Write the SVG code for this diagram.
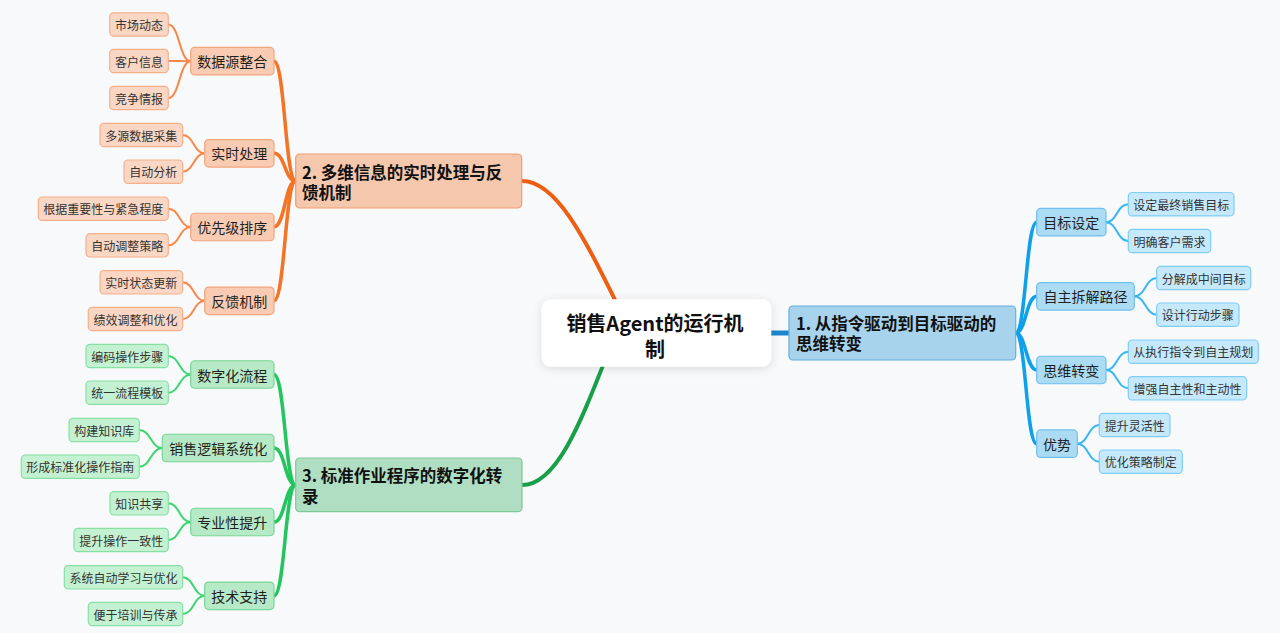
<svg xmlns="http://www.w3.org/2000/svg" width="1280" height="633" viewBox="0 0 1280 633">
<defs>
<filter id="sh" x="-20%" y="-30%" width="140%" height="160%">
<feDropShadow dx="0" dy="2" stdDeviation="5" flood-color="#000" flood-opacity="0.12"/>
</filter>
<style>
text{font-family:"Noto Sans CJK SC","Noto Sans",sans-serif;}
.t3{font-size:12px;fill:#333;text-anchor:middle;dominant-baseline:central;}
.t2{font-size:14px;fill:#1f1f1f;text-anchor:middle;dominant-baseline:central;}
.tb{font-size:16.5px;font-weight:bold;fill:#111;dominant-baseline:central;}
.tc{font-size:20px;font-weight:bold;fill:#111;text-anchor:middle;dominant-baseline:central;}
.o3{fill:#fad7c4;stroke:#f5b08a;stroke-width:1.2;}
.o2{fill:#f8cbb2;stroke:#f2a57c;stroke-width:1.2;}
.o1{fill:#f5c7ad;stroke:#ef9e6e;stroke-width:1.2;}
.g3{fill:#c4f1d2;stroke:#86e0a4;stroke-width:1.2;}
.g2{fill:#b6e9c6;stroke:#78d696;stroke-width:1.2;}
.g1{fill:#b0dec2;stroke:#7bc996;stroke-width:1.2;}
.b3{fill:#c5e9fb;stroke:#80cdf3;stroke-width:1.2;}
.b2{fill:#acdbf4;stroke:#6fc0ec;stroke-width:1.2;}
.b1{fill:#a8d3ec;stroke:#62b0e0;stroke-width:1.2;}
.c{fill:none;stroke-linecap:round;}
.co0{stroke:#ec5f13;stroke-width:4;}
.co1{stroke:#f47325;stroke-width:3.5;}
.co2{stroke:#f8884a;stroke-width:2;}
.cg0{stroke:#18a048;stroke-width:4;}
.cg1{stroke:#22c55e;stroke-width:3.5;}
.cg2{stroke:#3dd56f;stroke-width:2;}
.cb0{stroke:#1b87cc;stroke-width:5;stroke-linecap:butt;}
.cb1{stroke:#0fa0ea;stroke-width:3.5;}
.cb2{stroke:#36b7f3;stroke-width:2;}
</style>
</defs>
<rect width="1280" height="633" fill="#f8f9fb"/>

<g id="connectors">
<path class="c cb0" d="M770,333 L790,333"/>
<path class="c co0" d="M522,181 C560,181 590,250 630,330"/>
<path class="c cg0" d="M522,485 C560,485 585,410 615,335"/>

<path class="c cb1" d="M1015.7,333 C1026,333 1026,222.2 1036.7,222.2"/>
<path class="c cb1" d="M1015.7,333 C1026,333 1026,296.3 1036.7,296.3"/>
<path class="c cb1" d="M1015.7,333 C1026,333 1026,370 1036.7,370"/>
<path class="c cb1" d="M1015.7,333 C1026,333 1026,443.7 1036.7,443.7"/>

<path class="c cb2" d="M1106,222.2 C1117,222.2 1117,204.2 1128.3,204.2"/>
<path class="c cb2" d="M1106,222.2 C1117,222.2 1117,241 1128.3,241"/>
<path class="c cb2" d="M1134.3,296.3 C1145.5,296.3 1145.5,278 1156.7,278"/>
<path class="c cb2" d="M1134.3,296.3 C1145.5,296.3 1145.5,314.7 1156.7,314.7"/>
<path class="c cb2" d="M1106,370 C1117,370 1117,351.7 1128.3,351.7"/>
<path class="c cb2" d="M1106,370 C1117,370 1117,388.3 1128.3,388.3"/>
<path class="c cb2" d="M1077.3,443.7 C1088.3,443.7 1088.3,425 1099.3,425"/>
<path class="c cb2" d="M1077.3,443.7 C1088.3,443.7 1088.3,461.7 1099.3,461.7"/>

<path class="c co1" d="M295.7,181 C285,181 285,61.2 274,61.2"/>
<path class="c co1" d="M295.7,181 C285,181 285,153.3 274,153.3"/>
<path class="c co1" d="M295.7,181 C285,181 285,227 274,227"/>
<path class="c co1" d="M295.7,181 C285,181 285,300.8 274,300.8"/>

<path class="c co2" d="M190.7,61.2 C179.5,61.2 179.5,24.5 168.3,24.5"/>
<path class="c co2" d="M190.7,61.2 C179.5,61.2 179.5,61 168.3,61"/>
<path class="c co2" d="M190.7,61.2 C179.5,61.2 179.5,98 168.3,98"/>
<path class="c co2" d="M204.7,153.3 C193.7,153.3 193.7,135 182.7,135"/>
<path class="c co2" d="M204.7,153.3 C193.7,153.3 193.7,171.7 182.7,171.7"/>
<path class="c co2" d="M190.7,227 C179.5,227 179.5,208.7 168.3,208.7"/>
<path class="c co2" d="M190.7,227 C179.5,227 179.5,245.3 168.3,245.3"/>
<path class="c co2" d="M204.7,300.8 C193.7,300.8 193.7,282.3 182.7,282.3"/>
<path class="c co2" d="M204.7,300.8 C193.7,300.8 193.7,319 182.7,319"/>

<path class="c cg1" d="M295.7,485 C285,485 285,374.5 274,374.5"/>
<path class="c cg1" d="M295.7,485 C285,485 285,448 274,448"/>
<path class="c cg1" d="M295.7,485 C285,485 285,522 274,522"/>
<path class="c cg1" d="M295.7,485 C285,485 285,595.8 274,595.8"/>

<path class="c cg2" d="M190.7,374.5 C179.5,374.5 179.5,356 168.3,356"/>
<path class="c cg2" d="M190.7,374.5 C179.5,374.5 179.5,392.7 168.3,392.7"/>
<path class="c cg2" d="M162.3,448 C150.8,448 150.8,430 139.3,430"/>
<path class="c cg2" d="M162.3,448 C150.8,448 150.8,466.7 139.3,466.7"/>
<path class="c cg2" d="M190.7,522 C179.5,522 179.5,503.3 168.3,503.3"/>
<path class="c cg2" d="M190.7,522 C179.5,522 179.5,540 168.3,540"/>
<path class="c cg2" d="M204.7,595.8 C193.7,595.8 193.7,577.3 182.7,577.3"/>
<path class="c cg2" d="M204.7,595.8 C193.7,595.8 193.7,614 182.7,614"/>
</g>

<g id="center">
<rect x="541.7" y="299.3" width="229.6" height="67.4" rx="9" fill="#fff" filter="url(#sh)"/>
<text class="tc"><tspan x="655" y="321.5">销售Agent的运行机</tspan><tspan x="655" y="348">制</tspan></text>
</g>

<g id="branch1">
<rect class="b1" x="789" y="306" width="226.7" height="54" rx="4"/>
<text class="tb"><tspan x="796" y="322.7">1. 从指令驱动到目标驱动的</tspan><tspan x="796" y="343.3">思维转变</tspan></text>
</g>
<g id="branch2">
<rect class="o1" x="295.7" y="154" width="226" height="54" rx="4"/>
<text class="tb"><tspan x="302" y="171.5">2. 多维信息的实时处理与反</tspan><tspan x="302" y="192">馈机制</tspan></text>
</g>
<g id="branch3">
<rect class="g1" x="295.7" y="458" width="226.3" height="53.7" rx="4"/>
<text class="tb"><tspan x="302" y="475">3. 标准作业程序的数字化转</tspan><tspan x="302" y="495.7">录</tspan></text>
</g>

<!-- right side -->
<g id="n-mubiao"><rect class="b2" x="1036.7" y="208.45" width="69.3" height="27.5" rx="4"/><text class="t2" x="1071.35" y="222.2">目标设定</text></g>
<g id="n-chaijie"><rect class="b2" x="1036.7" y="282.55" width="97.6" height="27.5" rx="4"/><text class="t2" x="1085.5" y="296.3">自主拆解路径</text></g>
<g id="n-siwei"><rect class="b2" x="1036.7" y="356.25" width="69.3" height="27.5" rx="4"/><text class="t2" x="1071.35" y="370">思维转变</text></g>
<g id="n-youshi"><rect class="b2" x="1036.7" y="429.95" width="40.6" height="27.5" rx="4"/><text class="t2" x="1057" y="443.7">优势</text></g>

<g id="n-r1"><rect class="b3" x="1128.3" y="192.5" width="105.7" height="23.4" rx="4"/><text class="t3" x="1181.15" y="204.2">设定最终销售目标</text></g>
<g id="n-r2"><rect class="b3" x="1128.3" y="229.3" width="82.4" height="23.4" rx="4"/><text class="t3" x="1169.5" y="241">明确客户需求</text></g>
<g id="n-r3"><rect class="b3" x="1156.7" y="266.3" width="94" height="23.4" rx="4"/><text class="t3" x="1203.7" y="278">分解成中间目标</text></g>
<g id="n-r4"><rect class="b3" x="1156.7" y="303" width="82.3" height="23.4" rx="4"/><text class="t3" x="1197.85" y="314.7">设计行动步骤</text></g>
<g id="n-r5"><rect class="b3" x="1128.3" y="340" width="130" height="23.4" rx="4"/><text class="t3" x="1193.3" y="351.7">从执行指令到自主规划</text></g>
<g id="n-r6"><rect class="b3" x="1128.3" y="376.6" width="118.4" height="23.4" rx="4"/><text class="t3" x="1187.5" y="388.3">增强自主性和主动性</text></g>
<g id="n-r7"><rect class="b3" x="1099.3" y="413.3" width="70.7" height="23.4" rx="4"/><text class="t3" x="1134.65" y="425">提升灵活性</text></g>
<g id="n-r8"><rect class="b3" x="1099.3" y="450" width="83" height="23.4" rx="4"/><text class="t3" x="1140.8" y="461.7">优化策略制定</text></g>

<!-- left top (orange) -->
<g id="n-shujuyuan"><rect class="o2" x="190.7" y="47.45" width="83.3" height="27.5" rx="4"/><text class="t2" x="232.35" y="61.2">数据源整合</text></g>
<g id="n-shishi"><rect class="o2" x="204.7" y="139.55" width="69.3" height="27.5" rx="4"/><text class="t2" x="239.35" y="153.3">实时处理</text></g>
<g id="n-youxian"><rect class="o2" x="190.7" y="213.25" width="83.3" height="27.5" rx="4"/><text class="t2" x="232.35" y="227">优先级排序</text></g>
<g id="n-fankui"><rect class="o2" x="204.7" y="287.05" width="69.3" height="27.5" rx="4"/><text class="t2" x="239.35" y="300.8">反馈机制</text></g>

<g id="n-o1"><rect class="o3" x="109.7" y="12.8" width="58.6" height="23.4" rx="4"/><text class="t3" x="139" y="24.5">市场动态</text></g>
<g id="n-o2"><rect class="o3" x="109.7" y="49.3" width="58.6" height="23.4" rx="4"/><text class="t3" x="139" y="61">客户信息</text></g>
<g id="n-o3"><rect class="o3" x="109.7" y="86.3" width="58.6" height="23.4" rx="4"/><text class="t3" x="139" y="98">竞争情报</text></g>
<g id="n-o4"><rect class="o3" x="100" y="123.3" width="82.7" height="23.4" rx="4"/><text class="t3" x="141.35" y="135">多源数据采集</text></g>
<g id="n-o5"><rect class="o3" x="124" y="160" width="58.7" height="23.4" rx="4"/><text class="t3" x="153.35" y="171.7">自动分析</text></g>
<g id="n-o6"><rect class="o3" x="38.3" y="197" width="130" height="23.4" rx="4"/><text class="t3" x="103.3" y="208.7">根据重要性与紧急程度</text></g>
<g id="n-o7"><rect class="o3" x="86" y="233.6" width="82.3" height="23.4" rx="4"/><text class="t3" x="127.15" y="245.3">自动调整策略</text></g>
<g id="n-o8"><rect class="o3" x="100" y="270.6" width="82.7" height="23.4" rx="4"/><text class="t3" x="141.35" y="282.3">实时状态更新</text></g>
<g id="n-o9"><rect class="o3" x="88.3" y="307.3" width="94.4" height="23.4" rx="4"/><text class="t3" x="135.5" y="319">绩效调整和优化</text></g>

<!-- left bottom (green) -->
<g id="n-shuzihua"><rect class="g2" x="190.7" y="360.75" width="83.3" height="27.5" rx="4"/><text class="t2" x="232.35" y="374.5">数字化流程</text></g>
<g id="n-luoji"><rect class="g2" x="162.3" y="434.25" width="111.7" height="27.5" rx="4"/><text class="t2" x="218.15" y="448">销售逻辑系统化</text></g>
<g id="n-zhuanye"><rect class="g2" x="190.7" y="508.25" width="83.3" height="27.5" rx="4"/><text class="t2" x="232.35" y="522">专业性提升</text></g>
<g id="n-jishu"><rect class="g2" x="204.7" y="582.05" width="69.3" height="27.5" rx="4"/><text class="t2" x="239.35" y="595.8">技术支持</text></g>

<g id="n-g1"><rect class="g3" x="86" y="344.3" width="82.3" height="23.4" rx="4"/><text class="t3" x="127.15" y="356">编码操作步骤</text></g>
<g id="n-g2"><rect class="g3" x="86" y="381" width="82.3" height="23.4" rx="4"/><text class="t3" x="127.15" y="392.7">统一流程模板</text></g>
<g id="n-g3"><rect class="g3" x="69" y="418.3" width="70.3" height="23.4" rx="4"/><text class="t3" x="104.15" y="430">构建知识库</text></g>
<g id="n-g4"><rect class="g3" x="21.3" y="455" width="118" height="23.4" rx="4"/><text class="t3" x="80.3" y="466.7">形成标准化操作指南</text></g>
<g id="n-g5"><rect class="g3" x="110" y="491.6" width="58.3" height="23.4" rx="4"/><text class="t3" x="139.15" y="503.3">知识共享</text></g>
<g id="n-g6"><rect class="g3" x="74" y="528.3" width="94.3" height="23.4" rx="4"/><text class="t3" x="121.15" y="540">提升操作一致性</text></g>
<g id="n-g7"><rect class="g3" x="64.3" y="565.6" width="118.4" height="23.4" rx="4"/><text class="t3" x="123.5" y="577.3">系统自动学习与优化</text></g>
<g id="n-g8"><rect class="g3" x="88.3" y="602.3" width="94.4" height="23.4" rx="4"/><text class="t3" x="135.5" y="614">便于培训与传承</text></g>
</svg>
